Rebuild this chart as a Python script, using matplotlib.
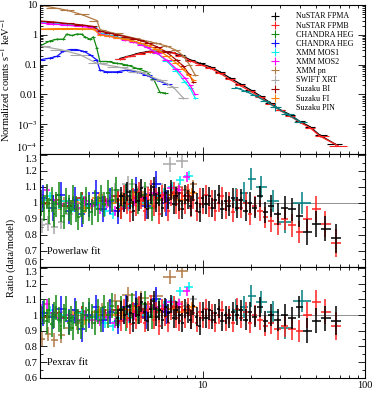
import numpy as np
import matplotlib.pyplot as plt
from matplotlib.ticker import FixedLocator, FixedFormatter, LogLocator, NullFormatter, MultipleLocator

plt.rcParams['font.family'] = ['Liberation Serif', 'DejaVu Serif']
plt.rcParams['mathtext.fontset'] = 'stix'

# instruments, legend order
names = ['NuSTAR FPMA', 'NuSTAR FPMB', 'CHANDRA HEG', 'CHANDRA HEG', 'XMM MOS1',
         'XMM MOS2', 'XMM pn', 'SWIFT XRT', 'Suzaku BI', 'Suzaku FI', 'Suzaku PIN']
colors = ['black', '#ff2020', '#138a13', '#1010ff', '#00f0f0', '#ff00ff',
          '#b07a45', '#a8a8a8', '#a00000', '#ff8000', '#008080']

# ---- top panel: energy (keV) and normalized counts s^-1 keV^-1
fpma_e = [3.1, 3.6, 4.1, 4.75, 5.5, 6.3, 7.3, 8.4, 9.6, 11.1, 12.8, 14.7, 17.0, 19.6, 22.6, 26.0, 29.9, 34.5, 39.7, 45.7, 52.7, 65.0]
fpma_v = [0.16, 0.20, 0.245, 0.28, 0.28, 0.27, 0.21, 0.145, 0.111, 0.085, 0.057, 0.036, 0.0227, 0.0145, 0.0090, 0.0053, 0.0031, 0.0021, 0.00124, 0.00083, 0.00043, 0.00022]
fpmb_e = [3.1, 3.6, 4.1, 4.75, 5.5, 6.3, 7.3, 8.4, 9.6, 11.1, 12.8, 14.7, 17.0, 19.6, 22.6, 26.0, 29.9, 34.5, 39.7, 45.7, 52.7, 68.0]
fpmb_v = [0.15, 0.19, 0.235, 0.27, 0.27, 0.26, 0.20, 0.135, 0.10, 0.077, 0.051, 0.032, 0.020, 0.013, 0.0082, 0.0049, 0.0029, 0.0019, 0.00115, 0.00077, 0.0004, 0.00019]
heg1_e = [1.0, 1.15, 1.27, 1.39, 1.46, 1.57, 1.68, 1.8, 1.89, 2.03, 2.13, 2.23, 2.34, 2.57, 2.96, 3.41, 3.94, 4.53, 4.98, 5.47, 5.88]
heg1_v = [0.42, 0.62, 0.71, 0.71, 1.05, 0.95, 1.05, 1.05, 0.85, 0.71, 0.85, 0.37, 0.127, 0.127, 0.111, 0.0975, 0.075, 0.057, 0.034, 0.0117, 0.0111]
heg2_e = [1.0, 1.15, 1.27, 1.39, 1.53, 1.68, 1.85, 2.03, 2.23, 2.34, 2.57, 2.96, 3.41, 3.94, 4.53, 5.22, 6.02]
heg2_v = [0.145, 0.165, 0.189, 0.28, 0.32, 0.32, 0.28, 0.215, 0.145, 0.065, 0.057, 0.057, 0.065, 0.057, 0.044, 0.030, 0.0227]
mos1_e = [1.0, 1.2, 1.46, 1.8, 2.13, 2.34, 2.65, 2.96, 3.35, 3.75, 4.15, 4.53, 5.22, 6.02, 6.93, 7.8, 8.4, 9.0]
mos1_v = [2.66, 2.45, 2.21, 2.0, 1.79, 1.11, 0.97, 0.85, 0.72, 0.62, 0.5, 0.4, 0.25, 0.13, 0.06, 0.026, 0.016, 0.0075]
mos2_e = [1.0, 1.2, 1.46, 1.8, 2.13, 2.34, 2.65, 2.96, 3.35, 3.75, 4.15, 4.53, 5.22, 6.02, 6.93, 7.8, 8.4, 9.0]
mos2_v = [2.5, 2.3, 2.1, 1.9, 1.7, 1.05, 0.92, 0.8, 0.68, 0.58, 0.47, 0.38, 0.25, 0.14, 0.07, 0.035, 0.02, 0.01]
pn_e = [1.0, 1.2, 1.46, 1.8, 2.24, 2.34, 2.8, 3.74, 4.5, 5.2, 6.0, 6.9, 7.6, 8.3, 9.0]
pn_v = [10, 8.2, 6.7, 4.8, 3.0, 1.5, 1.15, 0.79, 0.62, 0.52, 0.42, 0.3, 0.2, 0.1, 0.045]
xrt_e = [1.0, 1.33, 1.76, 2.23, 2.96, 4.12, 5.47, 6.61, 7.62]
xrt_v = [0.42, 0.32, 0.215, 0.111, 0.085, 0.057, 0.030, 0.0175, 0.0075]
bi_e = [1.0, 1.2, 1.46, 1.8, 2.13, 2.34, 2.65, 2.96, 3.35, 3.75, 4.15, 4.53, 5.22, 6.02, 6.93, 7.6, 8.2, 8.8]
bi_v = [2.9, 2.7, 2.4, 2.15, 1.9, 1.3, 1.15, 1.0, 0.87, 0.75, 0.65, 0.55, 0.4, 0.26, 0.14, 0.09, 0.05, 0.026]
fi_e = [1.0, 1.2, 1.46, 1.8, 2.13, 2.34, 2.65, 2.96, 3.35, 3.75, 4.15, 4.53, 5.22, 6.02, 6.93, 7.6, 8.2, 8.8]
fi_v = [1.55, 1.6, 1.62, 1.6, 1.55, 1.0, 0.9, 0.8, 0.7, 0.62, 0.53, 0.45, 0.33, 0.2, 0.11, 0.07, 0.045, 0.03]
pin_e = [16, 18.5, 21, 24, 28, 33, 40]
pin_v = [0.017, 0.0125, 0.0092, 0.0062, 0.0038, 0.0022, 0.0012]

# ---- ratio panels: energies of the bins
nu_re = [3.0, 3.15, 3.3, 3.45, 3.6, 3.75, 3.9, 4.05, 4.2, 4.4, 4.6, 4.8, 5.0, 5.2, 5.4,
         5.65, 5.9, 6.15, 6.4, 6.65, 6.9, 7.2, 7.5, 7.8, 8.1, 8.45, 8.8, 9.2, 9.6, 10.0,
         10.5, 11.0, 11.5, 12.0, 12.6, 13.2, 13.9, 14.6, 15.4, 16.3, 17.3, 18.4, 19.6,
         21.0, 22.6, 24.4, 26.5, 29.0, 32.0, 35.5, 39.5, 44.0, 50.0, 57.0, 66.0]
nu_err = [0.06, 0.06, 0.06, 0.06, 0.06, 0.06, 0.06, 0.06, 0.06, 0.06, 0.06, 0.06, 0.06, 0.06, 0.06,
          0.06, 0.06, 0.06, 0.06, 0.06, 0.06, 0.06, 0.06, 0.06, 0.06, 0.06, 0.06, 0.06, 0.06, 0.06,
          0.06, 0.06, 0.06, 0.06, 0.06, 0.06, 0.06, 0.06, 0.06, 0.065, 0.065, 0.065, 0.065,
          0.065, 0.065, 0.065, 0.07, 0.07, 0.07, 0.07, 0.07, 0.08, 0.08, 0.08, 0.09]
heg1_re = [1.02, 1.06, 1.10, 1.14, 1.18, 1.22, 1.26, 1.30, 1.35, 1.40, 1.45, 1.50, 1.55, 1.60, 1.66, 1.72, 1.78, 1.85,
           1.92, 2.0, 2.08, 2.17, 2.26, 2.36, 2.48, 2.62, 2.78, 2.95, 3.15, 3.4, 3.7, 4.0, 4.4, 4.9, 5.4]
heg2_re = [1.05, 1.2, 1.35, 1.5, 1.65, 1.8, 2.0, 2.2, 2.45, 2.7, 3.0, 3.4, 3.9, 4.5, 5.2, 6.0]
mos1_re = [1.05, 1.15, 1.3, 1.45, 1.6, 1.8, 2.0, 2.25, 2.5, 2.8, 3.1, 3.5, 4.0, 4.5, 5.1, 5.8, 6.5, 7.3, 8.2]
mos2_re = [1.02, 1.1, 1.2, 1.35, 1.5, 1.7, 1.9, 2.1, 2.35, 2.6, 2.9, 3.3, 3.8, 4.4, 5.0, 5.7, 6.4, 7.2, 8.0]
pn_re = [1.02, 1.1, 1.2, 1.3, 1.4, 1.55, 1.7, 1.85, 2.0, 2.2, 2.4, 2.65, 2.9, 3.2, 3.5, 3.9, 4.3, 4.8, 5.3, 5.9, 6.5, 7.2, 8.0, 8.8]
xrt_re = [1.03, 1.12, 1.22, 1.35, 1.5, 1.7, 2.0, 2.4, 2.9, 3.5, 4.2, 5.2, 6.3, 7.5]
bi_re = [1.05, 1.25, 1.5, 1.8, 2.1, 2.5, 3.0, 3.6, 4.3, 5.1, 6.0, 7.0, 8.2]
fi_re = [1.1, 1.3, 1.6, 1.9, 2.3, 2.7, 3.2, 3.8, 4.5, 5.4, 6.4, 7.5, 8.6]
pin_re = [16, 18, 20, 23, 27, 32, 41]

# typical ratio errors of the other instruments
heg_err, mos_err, pn_err, xrt_err, suz_err, pin_err = 0.08, 0.03, 0.025, 0.045, 0.035, 0.07

# ---- powerlaw fit ratios
fpma_pl = [0.97, 1.04, 1.00, 1.07, 1.02, 0.95, 1.06, 1.01, 1.09, 1.03, 0.96, 1.05, 1.10, 1.00, 1.04,
           0.97, 1.06, 1.02, 1.08, 0.99, 1.04, 1.01, 0.96, 1.05, 1.02, 0.98, 1.07, 1.00, 0.94, 1.03,
           0.99, 1.04, 0.97, 1.02, 1.05, 0.96, 1.01, 0.98, 1.03, 0.97, 1.02, 0.95, 1.00,
           0.97, 1.04, 0.94, 0.98, 0.93, 0.97, 0.96, 0.92, 0.82, 0.87, 0.84, 0.78]
fpmb_pl = [1.01, 0.96, 1.05, 0.99, 0.94, 1.03, 0.98, 1.07, 1.02, 0.95, 1.04, 1.08, 0.98, 1.03, 0.93,
           1.05, 1.00, 0.95, 1.04, 1.07, 0.99, 0.96, 1.04, 0.99, 1.06, 0.97, 1.02, 0.95, 1.03, 0.99,
           1.05, 0.97, 1.02, 0.95, 1.00, 1.04, 0.96, 1.01, 0.94, 1.02, 0.97, 1.00, 0.93,
           0.98, 0.95, 0.91, 0.89, 0.87, 0.90, 0.86, 0.82, 0.90, 0.96, 0.87, 0.75]
heg1_pl = [1.00, 0.97, 1.04, 0.95, 1.02, 0.93, 0.99, 1.05, 0.96, 0.92, 1.01, 0.97, 0.94, 1.03, 0.96, 0.91, 0.99, 0.95,
           1.02, 0.97, 0.94, 1.00, 0.96, 1.03, 0.99, 1.06, 1.02, 1.08, 0.98, 1.04, 1.07, 1.01, 1.05, 0.97, 1.02]
heg2_pl = [1.03, 0.97, 1.05, 0.95, 1.02, 0.93, 0.99, 1.06, 0.96, 1.01, 0.95, 1.04, 1.08, 0.98, 1.12, 1.0]
mos1_pl = [1.02, 1.04, 0.99, 1.01, 0.97, 1.02, 0.98, 1.0, 0.95, 0.93, 0.97, 0.98, 1.02, 1.0, 1.04, 1.06, 1.1, 1.14, 1.17]
mos2_pl = [1.05, 1.08, 1.02, 0.99, 1.0, 0.97, 1.01, 0.98, 0.96, 1.0, 0.95, 0.97, 1.01, 1.03, 1.06, 1.04, 1.09, 1.08, 1.16]
pn_pl = [1.01, 0.99, 1.02, 1.0, 1.01, 0.98, 1.0, 1.02, 0.99, 1.01, 1.03, 1.0, 1.02, 1.04, 1.01, 1.03, 1.05, 1.02,
         1.04, 1.07, 1.05, 1.1, 1.08, 1.12]
xrt_pl = [0.86, 0.87, 0.85, 0.88, 0.93, 0.96, 0.98, 1.02, 1.08, 1.12, 1.10, 1.12, 1.24, 1.26]
bi_pl = [1.0, 1.02, 0.98, 1.03, 0.99, 1.01, 1.04, 1.0, 1.02, 1.05, 1.03, 1.06, 1.04]
fi_pl = [1.02, 0.99, 1.01, 0.97, 1.03, 1.0, 1.02, 1.04, 0.99, 1.03, 1.05, 1.02, 1.06]
pin_pl = [1.02, 1.06, 1.15, 1.10, 1.01, 0.88, 1.0]

# ---- pexrav fit ratios
fpma_px = [0.98, 1.03, 1.00, 1.06, 1.01, 0.95, 1.05, 1.00, 1.08, 1.02, 0.96, 1.04, 1.09, 0.99, 1.03,
           0.97, 1.05, 1.01, 1.07, 0.98, 1.03, 1.00, 0.95, 1.04, 1.01, 0.97, 1.06, 0.99, 0.93, 1.02,
           0.98, 1.03, 0.97, 1.01, 1.04, 0.96, 1.00, 0.98, 1.02, 1.00, 1.03, 0.97, 1.02,
           0.99, 1.05, 0.96, 1.00, 0.97, 1.00, 0.98, 1.05, 0.90, 0.965, 0.98, 0.965]
fpmb_px = [1.00, 0.96, 1.04, 0.98, 0.94, 1.02, 0.97, 1.06, 1.01, 0.95, 1.03, 1.07, 0.97, 1.02, 0.93,
           1.04, 0.99, 0.95, 1.03, 1.06, 0.98, 0.96, 1.03, 0.98, 1.05, 0.97, 1.01, 0.95, 1.02, 0.98,
           1.04, 0.97, 1.01, 0.95, 1.00, 1.03, 0.96, 1.00, 0.95, 1.04, 0.98, 1.02, 0.95,
           1.00, 0.97, 0.93, 0.95, 0.91, 0.93, 0.91, 0.90, 1.00, 1.08, 1.02, 0.93]
heg1_px = [0.98, 1.02, 0.96, 1.03, 0.94, 1.00, 1.05, 0.97, 0.93, 0.99, 1.04, 0.95, 0.98, 0.92, 1.01, 0.96, 0.93, 1.00,
           0.97, 1.03, 0.99, 0.95, 1.02, 0.97, 1.05, 1.00, 1.06, 1.01, 1.04, 0.98, 1.06, 1.02, 1.07, 0.99, 1.03]
heg2_px = [1.01, 0.99, 1.04, 0.96, 1.03, 0.91, 1.0, 1.05, 0.97, 1.02, 0.96, 1.05, 1.07, 0.99, 1.10, 1.02]
mos1_px = [1.01, 1.03, 0.98, 1.0, 0.97, 1.01, 0.98, 0.99, 0.95, 0.93, 0.96, 0.98, 1.01, 1.0, 1.03, 1.06, 1.09, 1.15, 1.18]
mos2_px = [1.04, 1.07, 1.01, 0.98, 1.0, 0.97, 1.0, 0.97, 0.96, 0.99, 0.95, 0.97, 1.0, 1.02, 1.05, 1.04, 1.08, 1.07, 1.15]
pn_px = [1.0, 0.99, 1.01, 1.0, 1.02, 0.98, 1.01, 1.01, 0.99, 1.0, 1.02, 1.0, 1.01, 1.03, 1.0, 1.02, 1.04, 1.02,
         1.03, 1.05, 1.04, 1.08, 1.06, 1.1]
xrt_px = [0.85, 0.88, 0.84, 0.87, 0.92, 0.95, 0.99, 1.03, 1.09, 1.13, 1.11, 1.12, 1.24, 1.28]
bi_px = [0.99, 1.01, 0.98, 1.02, 0.99, 1.0, 1.03, 1.0, 1.01, 1.04, 1.02, 1.05, 1.03]
fi_px = [1.01, 0.99, 1.0, 0.97, 1.02, 1.0, 1.01, 1.03, 0.99, 1.02, 1.04, 1.02, 1.05]
pin_px = [1.03, 1.05, 1.12, 1.08, 1.02, 0.92, 1.09]


def half_bins(e):
    # half widths of log bins whose centres are e
    le = np.log10(np.asarray(e, float))
    mid = (le[1:] + le[:-1]) / 2
    lo = np.concatenate([[2 * le[0] - mid[0]], mid])
    hi = np.concatenate([mid, [2 * le[-1] - mid[-1]]])
    e = 10 ** le
    return [e - 10 ** lo, 10 ** hi - e]


spectra = [(fpma_e, fpma_v), (fpmb_e, fpmb_v), (heg1_e, heg1_v), (heg2_e, heg2_v), (mos1_e, mos1_v),
           (mos2_e, mos2_v), (pn_e, pn_v), (xrt_e, xrt_v), (bi_e, bi_v), (fi_e, fi_v), (pin_e, pin_v)]
# (index into names/colors, energies, powerlaw, pexrav, error) in drawing order
ratios = [(7, xrt_re, xrt_pl, xrt_px, xrt_err), (6, pn_re, pn_pl, pn_px, pn_err),
          (8, bi_re, bi_pl, bi_px, suz_err), (9, fi_re, fi_pl, fi_px, suz_err),
          (4, mos1_re, mos1_pl, mos1_px, mos_err), (5, mos2_re, mos2_pl, mos2_px, mos_err),
          (3, heg2_re, heg2_pl, heg2_px, heg_err), (2, heg1_re, heg1_pl, heg1_px, heg_err),
          (10, pin_re, pin_pl, pin_px, pin_err), (1, nu_re, fpmb_pl, fpmb_px, nu_err),
          (0, nu_re, fpma_pl, fpma_px, nu_err)]

fig = plt.figure(figsize=(3.74, 4.19), dpi=100)
ax0 = fig.add_axes([0.107, 0.6325, 0.869, 0.3556])
ax1 = fig.add_axes([0.107, 0.3628, 0.869, 0.2697])
ax2 = fig.add_axes([0.107, 0.0979, 0.869, 0.2649])

# top panel
handles = []
for (e, v), c in zip(spectra, colors):
    v = np.asarray(v, float)
    ax0.plot(e, v, color=c, lw=0.9)
    h = ax0.errorbar(e, v, xerr=half_bins(e), yerr=0.06 * v, fmt='none', ecolor=c, elinewidth=0.8)
    handles.append(h)
ax0.set_yscale('log')
ax0.set_ylim(1e-4, 10)
ax0.yaxis.set_major_locator(FixedLocator([1e-4, 1e-3, 1e-2, 0.1, 1, 10]))
ax0.yaxis.set_major_formatter(FixedFormatter(['$10^{-4}$', '$10^{-3}$', '0.01', '0.1', '1', '10']))
ax0.yaxis.set_minor_locator(LogLocator(subs=range(2, 10)))
ax0.yaxis.set_minor_formatter(NullFormatter())
ax0.set_ylabel('Normalized counts s$^{-1}$ keV$^{-1}$', fontsize=7.5, labelpad=1)
ax0.legend(handles, names, loc='upper left', bbox_to_anchor=(0.705, 0.95), frameon=False,
           fontsize=5.8, handlelength=1.5, handletextpad=1.8, labelspacing=0.14,
           borderpad=0, borderaxespad=0)

# ratio panels
swap = {6: 7, 7: 6}  # pn and XRT colours trade places in the pexrav panel
for idx, e, pl, px, err in ratios:
    xb = half_bins(e)
    ax1.errorbar(e, pl, xerr=xb, yerr=err, fmt='none', ecolor=colors[idx], elinewidth=1.1)
    ax2.errorbar(e, px, xerr=xb, yerr=err, fmt='none', ecolor=colors[swap.get(idx, idx)], elinewidth=1.1)

for ax, label in [(ax1, 'Powerlaw fit'), (ax2, 'Pexrav fit')]:
    ax.axhline(1, color='gray', lw=0.6, zorder=0)
    ax.set_ylim(0.6, 1.305)
    ax.yaxis.set_major_locator(FixedLocator([0.6, 0.7, 0.8, 0.9, 1.0, 1.1, 1.2, 1.3]))
    ax.yaxis.set_major_formatter(FixedFormatter(['0.6', '0.7', '0.8', '0.9', '1', '1.1', '1.2', '1.3']))
    ax.yaxis.set_minor_locator(MultipleLocator(0.05))
    ax.text(0.022, 0.135, label, transform=ax.transAxes, fontsize=7.5, va='center')

fig.text(0.03, 0.384, 'Ratio (data/model)', rotation=90, fontsize=7.5, ha='center', va='center')

for ax in (ax0, ax1, ax2):
    ax.set_xscale('log')
    ax.set_xlim(1, 100)
    ax.xaxis.set_major_locator(FixedLocator([1, 10, 100]))
    ax.xaxis.set_major_formatter(FixedFormatter(['', '10', '100']))
    ax.xaxis.set_minor_locator(LogLocator(subs=range(2, 10)))
    ax.xaxis.set_minor_formatter(NullFormatter())
    ax.tick_params(which='both', direction='in', top=True, right=True, labelsize=7.5, pad=2, width=0.6)
    ax.tick_params(which='major', length=5)
    ax.tick_params(which='minor', length=2.5)
    for s in ax.spines.values():
        s.set_linewidth(0.8)
ax0.tick_params(labelbottom=False)
ax1.tick_params(labelbottom=False)
ax0.yaxis.set_label_coords(-0.085, 0.5)

# keep the end labels of neighbouring panels clear of each other
fig.canvas.draw()
ax0.get_yticklabels()[0].set_va('bottom')
for ax in (ax1, ax2):
    ax.get_yticklabels()[-1].set_va('top')
ax1.get_yticklabels()[0].set_va('bottom')

fig.savefig('out.png', dpi=100)
